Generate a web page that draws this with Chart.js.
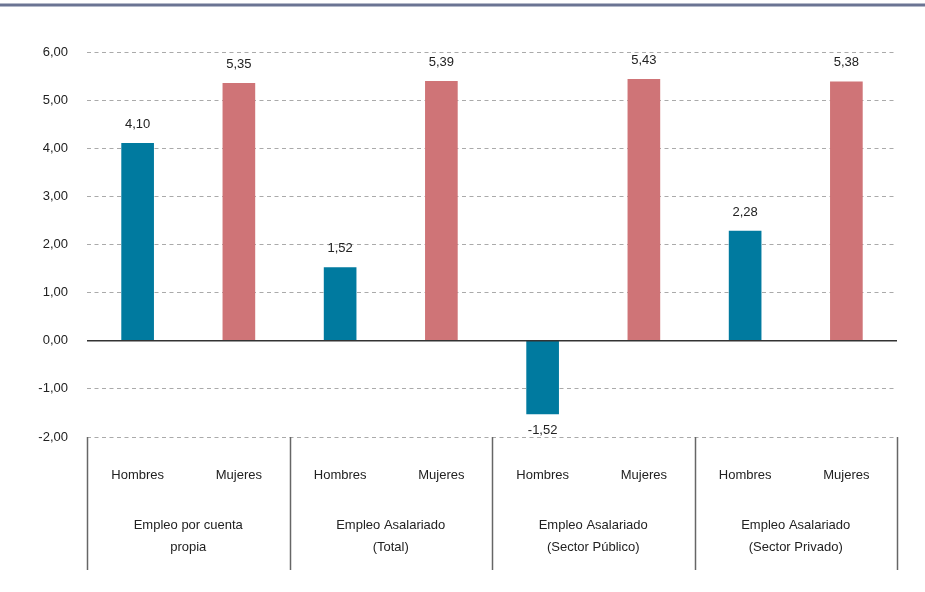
<!DOCTYPE html>
<html>
<head>
<meta charset="utf-8">
<script src="https://cdn.jsdelivr.net/npm/chart.js@4"></script>
<style>
  html, body { margin: 0; padding: 0; background: #fff; }
  #wrap { width: 925px; height: 592px; }
</style>
</head>
<body>
<div id="wrap"><canvas id="chart" width="925" height="592"></canvas></div>
<script>
// data
const sexLabels = ['Hombres', 'Mujeres', 'Hombres', 'Mujeres', 'Hombres', 'Mujeres', 'Hombres', 'Mujeres'];
const groupLabels = [
    ['Empleo por cuenta', 'propia'],
    ['Empleo Asalariado', '(Total)'],
    ['Empleo Asalariado', '(Sector Público)'],
    ['Empleo Asalariado', '(Sector Privado)']
];
const values = [4.10, 5.35, 1.52, 5.39, -1.52, 5.43, 2.28, 5.38];
const yTicks = [-2, -1, 0, 1, 2, 3, 4, 5, 6];

const teal = '#007a9f';
const pink = '#cf7477';
const fontFamily = '"Helvetica Neue", Helvetica, Arial, "Liberation Sans", sans-serif';

const fmt = v => v.toFixed(2).replace('.', ',');

// bar value labels, zero line, group separators and group names
const extras = {
    id: 'extras',
    afterDatasetsDraw(chart) {
        const ctx = chart.ctx;
        const area = chart.chartArea;
        const x = chart.scales.x;
        const y = chart.scales.y;

        // solid zero line
        ctx.save();
        ctx.strokeStyle = '#333';
        ctx.lineWidth = 1.5;
        ctx.beginPath();
        ctx.moveTo(area.left, y.getPixelForValue(0));
        ctx.lineTo(area.right, y.getPixelForValue(0));
        ctx.stroke();

        // value labels
        ctx.font = '13px ' + fontFamily;
        ctx.fillStyle = '#222';
        ctx.textAlign = 'center';
        ctx.textBaseline = 'middle';
        chart.getDatasetMeta(0).data.forEach((bar, i) => {
            const v = values[i];
            const ty = v >= 0 ? bar.y - 19 : bar.y + 17;
            ctx.fillText(fmt(v), bar.x, ty);
        });

        // group separators
        ctx.strokeStyle = '#666';
        ctx.lineWidth = 1.5;
        const step = (area.right - area.left) / groupLabels.length;
        for (let g = 0; g <= groupLabels.length; g++) {
            const gx = Math.round(area.left + g * step) + 0.5;
            ctx.beginPath();
            ctx.moveTo(gx, area.bottom);
            ctx.lineTo(gx, area.bottom + 133);
            ctx.stroke();
        }

        // group names
        ctx.fillStyle = '#222';
        groupLabels.forEach((lines, g) => {
            const cx = (x.getPixelForValue(g * 2) + x.getPixelForValue(g * 2 + 1)) / 2;
            lines.forEach((t, k) => ctx.fillText(t, cx, area.bottom + 88 + k * 22));
        });

        // top rule
        ctx.strokeStyle = '#6b7493';
        ctx.lineWidth = 3;
        ctx.beginPath();
        ctx.moveTo(0, 5);
        ctx.lineTo(chart.width, 5);
        ctx.stroke();
        ctx.restore();
    }
};

new Chart(document.getElementById('chart').getContext('2d'), {
    type: 'bar',
    data: {
        labels: sexLabels,
        datasets: [{
            data: values,
            backgroundColor: values.map((v, i) => i % 2 === 0 ? teal : pink),
            barThickness: 32
        }]
    },
    options: {
        responsive: false,
        animation: false,
        layout: { padding: { top: 52, right: 28, left: 0, bottom: 0 } },
        plugins: {
            legend: { display: false },
            tooltip: { enabled: false }
        },
        scales: {
            x: {
                grid: { display: false },
                border: { display: false },
                ticks: {
                    color: '#222',
                    font: { size: 13, family: fontFamily },
                    padding: 23,
                    maxRotation: 0
                },
                afterFit(scale) { scale.height = 155; }
            },
            y: {
                min: -2,
                max: 6,
                afterBuildTicks(scale) { scale.ticks = yTicks.map(v => ({ value: v })); },
                grid: { color: '#aaa', lineWidth: 1, drawTicks: false },
                border: { display: false, dash: [4, 3.5] },
                ticks: {
                    color: '#222',
                    font: { size: 13, family: fontFamily },
                    padding: 19,
                    callback: v => fmt(v)
                },
                afterFit(scale) { scale.width = 87; }
            }
        }
    },
    plugins: [extras]
});
</script>
</body>
</html>
